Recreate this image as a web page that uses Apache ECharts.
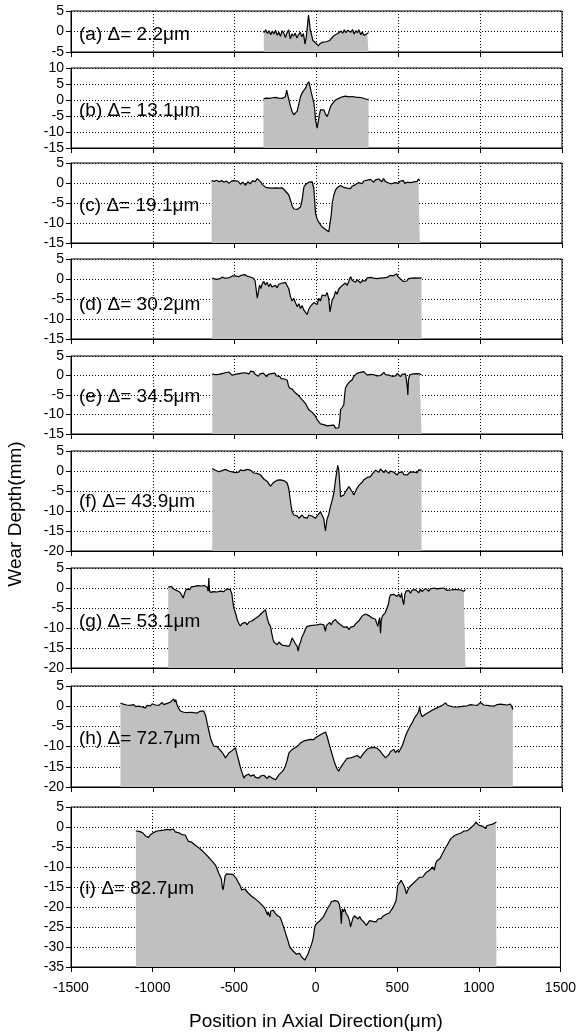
<!DOCTYPE html>
<html>
<head>
<meta charset="utf-8">
<title>Wear Depth profiles</title>
<script src="https://cdn.jsdelivr.net/npm/echarts@6.0.0/dist/echarts.min.js"></script>
<style>
html, body { margin: 0; padding: 0; background: #fff; }
#main { width: 579px; height: 1032px; }
</style>
</head>
<body>
<div id="main"></div>
<script>
// profile data [position um, depth]
var profileA = [[-322,-0.3],[-310,0.4],[-300,-0.5],[-290,0.2],[-280,-0.8],[-270,0.1],[-260,-0.6],[-250,0.3],[-240,-0.9],[-230,-0.2],[-220,-1.2],[-210,0.2],[-200,-0.4],[-190,-1.5],[-180,-0.3],[-170,0.4],[-160,-1.8],[-150,-0.6],[-140,-1.1],[-130,-0.4],[-120,-1.6],[-110,-0.8],[-100,-0.2],[-90,-1.3],[-80,-0.5],[-70,-3.1],[-62,-1.2],[-55,1.5],[-49,4.0],[-44,2.5],[-38,0.3],[-30,-0.8],[-22,-2.2],[-15,-1.8],[-5,-2.8],[5,-3.2],[12,-3.5],[20,-3.0],[30,-2.9],[40,-2.6],[50,-2.4],[60,-2.5],[70,-2.1],[80,-2.2],[90,-1.7],[100,-1.5],[110,-0.9],[120,-1.2],[130,-0.5],[140,-0.8],[150,0.1],[160,-0.4],[170,0.4],[180,-0.3],[190,0.3],[200,0.6],[210,-0.2],[220,0.5],[230,-0.6],[240,0.2],[250,-0.3],[260,0.4],[270,-0.8],[280,-0.1],[290,-1.0],[300,-1.4],[310,-0.5],[318,-0.3]];
var profileB = [[-324,0.3],[-310,0.6],[-300,0.1],[-290,0.5],[-280,0.2],[-270,0.7],[-260,0.4],[-250,0.8],[-240,0.3],[-230,0.6],[-220,0.9],[-210,0.5],[-200,0.8],[-190,1.0],[-182,3.1],[-174,1.2],[-166,-0.5],[-159,-2.0],[-149,-3.6],[-139,-4.6],[-128,-4.2],[-118,-3.5],[-108,-1.2],[-98,1.0],[-88,2.2],[-77,3.0],[-67,3.7],[-57,5.0],[-47,5.7],[-40,4.2],[-33,2.6],[-26,1.1],[-16,-1.0],[-10,-3.5],[-6,-6.2],[0,-7.8],[4,-8.8],[10,-7.0],[17,-4.8],[24,-3.1],[34,-2.8],[45,-3.1],[55,-4.4],[65,-5.2],[75,-3.8],[86,-2.0],[96,-1.2],[106,-0.6],[116,0.0],[126,0.4],[136,0.5],[147,0.6],[157,1.0],[167,0.8],[177,1.2],[187,0.9],[198,1.0],[208,0.7],[218,1.1],[228,0.8],[238,0.9],[249,0.6],[259,0.8],[269,0.5],[279,0.7],[289,0.4],[300,0.3],[310,0.5],[318,0.2]];
var profileC = [[-641,0.6],[-625,0.4],[-610,0.7],[-595,0.3],[-580,0.6],[-565,0.2],[-550,0.5],[-535,-0.1],[-520,0.4],[-507,0.6],[-495,0.1],[-480,0.5],[-465,-0.3],[-450,0.2],[-434,-0.6],[-420,0.3],[-405,-0.2],[-390,0.6],[-376,0.3],[-362,1.1],[-350,0.7],[-340,0.2],[-330,-0.4],[-320,-0.9],[-310,-1.1],[-301,-1.4],[-290,-1.2],[-280,-1.6],[-270,-1.3],[-260,-1.5],[-250,-1.2],[-240,-1.5],[-230,-1.3],[-220,-1.6],[-210,-1.2],[-200,-1.4],[-190,-2.0],[-180,-2.4],[-169,-3.0],[-159,-4.3],[-148,-5.8],[-138,-6.5],[-128,-6.8],[-118,-6.6],[-108,-6.2],[-98,-6.0],[-88,-4.2],[-77,-1.0],[-67,-0.4],[-57,0.0],[-47,0.2],[-36,0.1],[-26,0.3],[-16,-1.5],[-6,-7.6],[4,-9.0],[14,-9.8],[24,-10.4],[35,-11.0],[45,-11.3],[55,-11.6],[65,-11.9],[75,-12.2],[82,-12.0],[90,-8.0],[96,-5.0],[106,-3.0],[116,-1.8],[126,-1.2],[136,-0.8],[147,-0.6],[157,-0.9],[167,-1.1],[177,-0.8],[187,-1.3],[198,-1.2],[208,-1.4],[218,-0.8],[228,-1.0],[238,-0.4],[249,-0.6],[259,0.1],[269,0.3],[279,-0.2],[289,0.5],[300,0.2],[310,0.7],[320,0.3],[330,0.9],[340,0.4],[350,0.2],[360,0.8],[370,0.5],[380,1.0],[390,0.6],[400,0.3],[410,1.1],[420,0.4],[430,0.7],[440,0.0],[450,0.5],[460,-0.2],[471,-0.6],[480,0.1],[490,0.4],[500,-0.1],[510,0.5],[520,0.2],[530,0.6],[540,-0.1],[554,0.2],[565,0.6],[575,0.1],[585,0.5],[595,0.3],[605,0.8],[615,0.4],[623,1.0],[631,0.5]];
var profileD = [[-637,0.2],[-625,0.4],[-612,-0.1],[-600,0.3],[-588,0.1],[-575,0.5],[-562,0.2],[-550,0.6],[-538,0.3],[-525,0.5],[-512,0.8],[-500,0.4],[-488,0.7],[-475,0.6],[-462,0.9],[-450,0.5],[-438,1.1],[-425,0.7],[-415,1.0],[-405,0.5],[-395,0.8],[-385,0.2],[-375,-0.5],[-368,-2.8],[-362,-4.8],[-355,-3.2],[-348,-1.5],[-340,-2.4],[-332,-1.2],[-322,-0.6],[-312,-1.5],[-302,-0.8],[-292,-1.9],[-282,-1.2],[-272,-2.0],[-261,-2.3],[-251,-1.6],[-241,-2.2],[-230,-1.3],[-220,-1.8],[-210,-1.0],[-200,-1.5],[-189,-0.9],[-179,-0.6],[-169,-2.5],[-159,-4.4],[-149,-5.5],[-139,-4.8],[-128,-6.0],[-118,-6.9],[-108,-6.2],[-98,-7.4],[-88,-6.6],[-77,-7.8],[-67,-8.2],[-57,-8.9],[-47,-7.5],[-36,-6.8],[-26,-7.2],[-16,-5.9],[-6,-5.6],[4,-6.4],[14,-4.8],[24,-5.5],[35,-4.0],[45,-3.5],[55,-4.2],[65,-3.4],[75,-5.0],[82,-8.2],[90,-7.8],[96,-5.2],[106,-4.6],[116,-3.1],[126,-3.8],[136,-2.5],[147,-2.9],[157,-1.6],[167,-1.9],[177,-1.0],[187,-1.6],[198,-0.5],[208,0.6],[218,-0.3],[228,0.2],[238,-0.8],[249,-0.2],[259,-0.6],[269,-1.0],[279,-0.4],[289,0.0],[300,-0.5],[310,0.3],[320,-0.1],[330,0.4],[340,0.0],[350,0.2],[360,0.5],[370,0.1],[380,0.6],[390,0.2],[400,0.7],[410,0.3],[420,0.8],[430,0.4],[440,0.6],[450,0.9],[460,0.5],[470,0.8],[480,1.0],[489,1.3],[498,0.6],[508,0.2],[518,-0.2],[532,-0.6],[542,-0.2],[552,-0.5],[562,0.1],[572,-0.3],[582,0.2],[592,-0.1],[602,0.3],[612,0.0],[625,0.2],[635,0.5],[642,0.3]];
var profileE = [[-637,0.4],[-627,0.7],[-617,0.2],[-607,0.6],[-597,0.3],[-587,0.8],[-577,0.5],[-567,0.2],[-557,0.7],[-546,0.4],[-536,0.9],[-526,0.5],[-516,0.1],[-506,0.6],[-496,0.3],[-485,0.8],[-475,0.5],[-465,1.0],[-455,0.6],[-445,0.2],[-435,0.7],[-423,0.9],[-413,0.4],[-403,1.1],[-393,0.6],[-385,1.0],[-375,0.3],[-365,0.6],[-355,-0.2],[-345,0.4],[-335,0.1],[-325,0.6],[-315,0.2],[-305,-0.3],[-295,0.3],[-285,0.0],[-275,0.5],[-265,0.2],[-255,0.6],[-245,-0.1],[-235,-0.5],[-225,-0.2],[-215,-0.8],[-205,-0.4],[-195,-0.9],[-189,-0.7],[-179,-1.2],[-172,-2.5],[-165,-3.2],[-159,-3.0],[-149,-3.5],[-139,-3.9],[-128,-4.5],[-118,-4.2],[-108,-5.2],[-98,-5.6],[-88,-6.2],[-77,-6.5],[-67,-7.2],[-57,-8.0],[-47,-8.8],[-37,-9.0],[-27,-9.4],[-16,-9.8],[-6,-10.5],[4,-11.3],[14,-11.8],[24,-12.4],[35,-12.0],[45,-12.6],[55,-12.2],[65,-12.9],[75,-12.5],[86,-12.8],[96,-13.2],[106,-12.7],[116,-13.5],[126,-13.1],[136,-13.4],[142,-11.5],[147,-8.8],[157,-8.2],[167,-7.5],[172,-5.0],[177,-3.2],[187,-2.4],[198,-1.8],[208,-1.4],[218,-1.1],[228,-0.2],[238,0.3],[249,0.6],[259,0.2],[269,0.8],[279,0.4],[289,1.0],[300,0.5],[310,0.1],[320,0.6],[330,0.3],[340,0.8],[350,0.2],[361,0.5],[371,-0.1],[381,0.4],[391,0.0],[401,0.5],[412,0.8],[422,0.2],[432,0.6],[442,0.1],[452,0.4],[462,-0.2],[473,0.3],[483,-0.1],[493,0.5],[503,0.2],[513,-0.3],[524,0.3],[534,-0.2],[544,0.4],[550,0.0],[555,-3.0],[558,-5.0],[562,-1.0],[570,0.2],[580,-0.3],[590,0.4],[600,0.0],[610,0.5],[620,0.1],[630,0.4],[642,0.2]];
var profileF = [[-637,0.6],[-627,0.9],[-617,0.2],[-607,0.5],[-597,-0.2],[-587,-0.6],[-577,0.1],[-567,-0.3],[-557,0.4],[-546,0.4],[-536,0.0],[-526,0.3],[-516,-0.2],[-506,0.2],[-496,-0.4],[-485,0.1],[-475,-0.3],[-465,0.3],[-455,0.6],[-445,0.1],[-435,0.4],[-423,0.4],[-413,-0.1],[-403,0.2],[-393,-0.3],[-383,-0.5],[-372,-0.2],[-362,-0.6],[-352,-0.8],[-342,-1.0],[-332,-1.5],[-322,-2.0],[-312,-2.3],[-301,-2.6],[-291,-3.2],[-281,-3.8],[-271,-3.3],[-261,-2.8],[-251,-2.5],[-240,-2.3],[-230,-2.5],[-220,-2.2],[-210,-2.6],[-200,-2.4],[-189,-2.7],[-179,-3.0],[-169,-4.5],[-163,-6.4],[-156,-8.5],[-149,-10.2],[-139,-11.0],[-128,-11.5],[-118,-11.2],[-108,-11.8],[-98,-11.4],[-88,-11.0],[-77,-11.6],[-67,-11.2],[-57,-11.8],[-47,-11.0],[-37,-10.6],[-26,-11.3],[-16,-11.0],[-6,-11.8],[4,-11.2],[14,-10.8],[24,-10.2],[35,-10.6],[45,-12.0],[50,-13.8],[55,-15.0],[60,-13.2],[65,-12.0],[75,-10.8],[86,-8.8],[96,-7.3],[106,-5.5],[116,-2.3],[123,-0.4],[130,1.5],[136,0.2],[142,-3.0],[147,-6.4],[157,-6.8],[167,-6.0],[177,-5.2],[187,-4.8],[198,-3.9],[208,-4.4],[218,-5.2],[228,-6.0],[238,-5.1],[249,-4.2],[259,-3.6],[269,-3.1],[279,-2.8],[289,-2.2],[300,-1.9],[310,-1.6],[320,-1.2],[330,-1.4],[340,-0.8],[350,-0.3],[361,0.2],[371,0.4],[381,-0.3],[391,0.5],[401,0.1],[412,-0.4],[422,0.2],[432,-0.2],[442,-0.6],[452,0.0],[462,-0.5],[473,-0.3],[483,-0.8],[493,-1.0],[503,-0.4],[513,-0.7],[524,-0.2],[534,-0.9],[544,-0.5],[554,-1.0],[564,-0.6],[574,-0.2],[585,-0.7],[595,-0.3],[605,-0.1],[615,-0.4],[625,0.3],[635,0.1],[642,0.2]];
var profileG = [[-906,0.2],[-896,-0.3],[-886,0.4],[-876,-0.2],[-866,0.1],[-856,-0.6],[-846,-0.3],[-836,-1.0],[-826,-1.6],[-815,-2.5],[-805,-1.2],[-795,-0.3],[-785,0.2],[-775,-0.4],[-765,0.3],[-755,-0.2],[-745,0.4],[-735,0.1],[-725,0.6],[-715,0.2],[-705,0.5],[-695,0.1],[-685,0.6],[-678,0.8],[-668,0.2],[-662,-0.8],[-658,2.5],[-654,-0.5],[-648,-1.1],[-638,-0.6],[-628,-0.9],[-618,-0.4],[-608,-1.0],[-598,-0.5],[-587,-0.8],[-577,-0.3],[-567,-0.9],[-557,-0.6],[-547,-0.2],[-537,-0.7],[-527,-0.4],[-517,-1.5],[-510,-3.8],[-505,-5.0],[-498,-5.4],[-490,-7.0],[-482,-8.2],[-475,-8.8],[-465,-9.5],[-455,-8.9],[-445,-9.3],[-435,-8.6],[-423,-9.2],[-413,-8.5],[-403,-8.9],[-393,-8.2],[-383,-8.0],[-373,-7.6],[-362,-7.5],[-352,-7.0],[-342,-6.6],[-332,-6.2],[-322,-6.0],[-312,-5.4],[-305,-6.8],[-298,-8.0],[-291,-8.9],[-281,-9.6],[-274,-11.2],[-266,-12.8],[-258,-13.6],[-250,-13.8],[-240,-14.2],[-230,-13.5],[-220,-13.9],[-210,-14.3],[-200,-13.8],[-190,-14.4],[-180,-14.0],[-169,-14.6],[-159,-13.8],[-149,-12.5],[-139,-13.2],[-128,-14.0],[-118,-14.6],[-112,-15.8],[-105,-14.2],[-98,-13.6],[-90,-12.4],[-77,-11.3],[-67,-10.2],[-57,-9.6],[-47,-9.9],[-37,-9.4],[-26,-9.8],[-16,-9.3],[-6,-9.7],[4,-9.2],[14,-9.5],[24,-9.0],[35,-9.4],[45,-9.2],[50,-10.2],[55,-10.8],[60,-9.4],[70,-9.0],[80,-8.6],[90,-9.2],[100,-8.4],[110,-8.8],[116,-7.9],[126,-8.5],[136,-8.8],[147,-9.2],[157,-9.6],[167,-9.8],[177,-10.2],[187,-9.7],[198,-10.4],[208,-9.8],[218,-9.4],[228,-9.6],[238,-9.0],[249,-8.8],[259,-8.2],[269,-7.6],[279,-7.0],[289,-6.8],[300,-6.5],[310,-6.3],[320,-6.9],[330,-7.2],[340,-7.5],[350,-7.0],[360,-7.8],[368,-8.8],[375,-9.6],[381,-8.2],[386,-7.4],[391,-11.3],[396,-8.0],[404,-6.9],[412,-6.7],[420,-6.2],[432,-5.8],[440,-4.0],[446,-2.4],[452,-1.7],[462,-2.2],[473,-1.6],[483,-2.0],[493,-2.1],[503,-1.5],[513,-2.4],[520,-1.2],[526,-3.0],[533,-4.2],[540,-1.6],[547,-0.8],[554,-1.2],[564,-0.6],[574,-1.3],[585,-0.5],[595,-1.0],[605,-0.4],[615,-0.8],[625,-1.2],[635,-0.3],[645,-0.9],[655,-0.5],[666,-0.1],[676,-0.4],[686,-0.8],[696,-0.2],[706,-0.6],[717,0.0],[727,-0.5],[737,-0.2],[747,-0.7],[757,-0.1],[768,-0.4],[778,0.0],[788,-0.3],[798,-0.6],[808,-0.2],[818,-0.5],[829,-0.1],[839,-0.4],[849,-0.2],[860,-0.4],[870,-0.2],[880,-0.5],[890,-0.3],[900,-0.8],[910,-0.4]];
var profileH = [[-1198,0.8],[-1190,1.0],[-1180,0.5],[-1170,0.8],[-1160,0.3],[-1150,0.6],[-1140,0.2],[-1130,0.5],[-1116,0.4],[-1105,-0.1],[-1095,0.3],[-1085,0.0],[-1075,0.4],[-1065,-0.2],[-1055,0.1],[-1045,-0.4],[-1035,0.2],[-1025,0.5],[-1015,0.1],[-1004,0.6],[-994,0.8],[-984,0.3],[-974,0.7],[-964,0.2],[-953,0.6],[-943,0.9],[-933,0.4],[-923,0.8],[-912,0.7],[-902,0.3],[-892,1.0],[-882,1.4],[-872,1.8],[-866,1.0],[-860,1.6],[-851,0.2],[-841,-0.6],[-831,-1.2],[-821,-1.0],[-811,-1.5],[-800,-1.2],[-790,-1.6],[-780,-1.3],[-770,-1.5],[-760,-1.8],[-750,-1.6],[-740,-1.3],[-729,-1.7],[-719,-1.4],[-709,-1.2],[-699,-1.6],[-689,-1.2],[-684,-0.9],[-676,-2.5],[-668,-4.2],[-658,-6.0],[-648,-7.8],[-638,-9.0],[-627,-9.9],[-617,-10.2],[-607,-10.0],[-597,-10.5],[-587,-10.7],[-577,-11.4],[-567,-12.0],[-556,-12.8],[-546,-12.2],[-536,-11.6],[-526,-11.2],[-516,-11.0],[-506,-10.6],[-495,-10.3],[-485,-12.0],[-475,-13.5],[-464,-15.3],[-454,-16.5],[-444,-17.8],[-434,-17.2],[-424,-17.5],[-414,-16.8],[-403,-17.3],[-393,-16.9],[-383,-17.0],[-373,-17.6],[-362,-17.2],[-352,-17.8],[-342,-17.3],[-332,-17.6],[-322,-17.1],[-312,-17.5],[-301,-17.9],[-291,-17.3],[-281,-17.5],[-271,-17.8],[-261,-17.4],[-250,-18.2],[-240,-17.6],[-230,-17.0],[-220,-16.6],[-210,-16.2],[-200,-15.7],[-190,-14.8],[-180,-13.5],[-169,-11.6],[-159,-11.2],[-149,-10.7],[-139,-10.9],[-128,-10.2],[-118,-9.8],[-108,-9.6],[-98,-9.1],[-88,-9.4],[-77,-8.6],[-67,-8.9],[-57,-8.4],[-47,-8.7],[-37,-8.2],[-26,-8.5],[-16,-8.3],[-6,-7.8],[4,-7.6],[14,-7.3],[24,-7.0],[35,-6.8],[45,-6.6],[55,-6.4],[65,-7.5],[75,-9.0],[86,-10.6],[96,-12.0],[106,-13.4],[116,-14.6],[126,-15.5],[136,-16.1],[147,-15.2],[157,-14.6],[167,-14.0],[177,-13.6],[187,-12.9],[198,-13.2],[208,-12.8],[218,-13.0],[228,-12.5],[238,-12.9],[249,-12.2],[259,-12.6],[269,-12.8],[279,-12.1],[289,-11.6],[300,-11.2],[310,-10.6],[320,-10.9],[330,-10.3],[340,-10.5],[350,-10.2],[361,-10.6],[371,-10.4],[381,-10.7],[391,-11.2],[401,-11.8],[412,-12.3],[422,-12.8],[432,-12.6],[442,-12.0],[452,-11.2],[462,-10.8],[473,-10.7],[483,-11.5],[493,-10.9],[503,-11.4],[513,-11.2],[524,-9.8],[534,-8.6],[544,-7.4],[554,-6.4],[564,-5.6],[574,-4.8],[585,-4.1],[595,-3.2],[605,-2.5],[615,-2.0],[625,-1.2],[630,0.0],[635,-1.5],[645,-2.6],[656,-2.9],[666,-2.0],[676,-2.4],[686,-1.5],[696,-1.9],[706,-1.0],[717,-1.2],[727,-0.6],[737,-0.9],[747,-0.2],[757,-0.5],[768,0.2],[778,0.6],[788,0.8],[798,0.3],[808,0.5],[818,0.0],[829,0.3],[839,-0.2],[849,0.1],[860,-0.2],[870,0.2],[880,-0.1],[890,0.3],[900,0.0],[910,0.4],[921,0.1],[931,0.5],[941,0.4],[951,0.0],[961,0.3],[972,0.6],[982,0.2],[992,0.5],[1002,0.9],[1012,0.8],[1022,0.3],[1033,0.6],[1043,0.2],[1053,0.5],[1063,0.1],[1073,0.4],[1084,0.0],[1094,0.3],[1104,0.4],[1114,0.1],[1124,0.5],[1135,0.2],[1145,0.4],[1155,0.1],[1165,0.3],[1175,0.4],[1185,0.5],[1192,0.0],[1200,-0.8]];
var profileI = [[-1102,-1.0],[-1092,-1.3],[-1082,-1.1],[-1072,-1.6],[-1062,-1.4],[-1051,-1.9],[-1041,-2.3],[-1035,-2.1],[-1025,-2.6],[-1015,-2.0],[-1004,-1.7],[-994,-1.4],[-984,-1.2],[-974,-1.0],[-964,-1.5],[-953,-0.9],[-943,-1.2],[-933,-0.8],[-923,-1.1],[-912,-0.6],[-902,-0.9],[-892,-0.7],[-882,-1.0],[-872,-0.5],[-862,-1.2],[-851,-0.9],[-841,-1.4],[-831,-1.6],[-821,-1.9],[-811,-2.2],[-800,-2.0],[-790,-2.5],[-780,-3.6],[-770,-3.9],[-760,-3.8],[-750,-4.2],[-740,-4.5],[-729,-4.7],[-719,-5.1],[-709,-5.4],[-699,-5.8],[-689,-6.2],[-679,-6.6],[-668,-7.0],[-658,-7.5],[-648,-7.9],[-638,-8.4],[-627,-8.8],[-617,-9.4],[-607,-10.2],[-597,-11.3],[-587,-11.8],[-578,-13.0],[-573,-15.0],[-568,-15.7],[-562,-14.2],[-556,-12.4],[-546,-11.7],[-536,-12.0],[-526,-11.8],[-516,-12.2],[-506,-11.9],[-495,-12.1],[-485,-13.0],[-475,-13.8],[-464,-14.6],[-454,-15.7],[-444,-15.2],[-434,-15.5],[-424,-16.0],[-414,-16.5],[-403,-17.0],[-393,-17.3],[-383,-17.6],[-373,-17.9],[-362,-18.2],[-352,-18.6],[-342,-19.0],[-332,-19.4],[-322,-19.9],[-312,-20.3],[-301,-20.8],[-295,-22.0],[-291,-21.2],[-281,-22.5],[-275,-21.0],[-268,-20.6],[-261,-20.8],[-251,-21.4],[-240,-22.0],[-230,-21.6],[-220,-22.5],[-210,-23.4],[-200,-24.6],[-190,-25.8],[-180,-27.2],[-169,-28.6],[-159,-30.0],[-149,-30.4],[-139,-31.0],[-128,-31.5],[-118,-31.8],[-108,-32.0],[-98,-31.6],[-88,-32.4],[-77,-32.8],[-67,-33.3],[-57,-32.9],[-47,-31.7],[-37,-30.6],[-26,-29.4],[-16,-27.9],[-10,-26.2],[-6,-25.0],[4,-24.2],[14,-23.8],[24,-23.5],[35,-23.3],[45,-22.6],[55,-21.8],[65,-21.0],[75,-20.2],[86,-19.5],[96,-18.7],[106,-18.9],[116,-18.4],[126,-18.8],[136,-18.6],[145,-19.4],[152,-21.0],[157,-24.2],[162,-20.5],[170,-21.2],[177,-20.4],[187,-21.7],[198,-22.3],[208,-23.6],[213,-25.0],[218,-24.3],[228,-22.8],[238,-22.2],[249,-22.5],[259,-23.0],[269,-22.4],[279,-23.1],[289,-23.3],[300,-24.0],[310,-24.6],[315,-25.0],[320,-24.2],[330,-23.4],[340,-23.9],[350,-23.6],[361,-23.2],[371,-23.7],[381,-23.0],[391,-22.8],[401,-22.9],[412,-22.3],[422,-22.0],[432,-21.8],[442,-21.7],[452,-21.5],[462,-20.8],[473,-20.2],[483,-19.3],[493,-18.3],[498,-16.5],[503,-14.6],[513,-14.0],[523,-13.3],[533,-13.3],[543,-14.8],[551,-15.9],[556,-16.7],[564,-15.8],[574,-15.0],[585,-14.6],[595,-14.2],[605,-13.8],[615,-13.4],[625,-13.1],[635,-12.6],[645,-12.8],[656,-12.5],[666,-12.0],[676,-11.4],[686,-11.8],[696,-10.9],[706,-10.5],[717,-10.0],[727,-10.8],[735,-9.2],[742,-8.5],[752,-8.8],[762,-7.9],[770,-7.2],[778,-6.7],[788,-5.8],[798,-5.0],[808,-4.4],[818,-3.6],[829,-2.9],[839,-2.6],[849,-2.2],[860,-2.0],[870,-1.8],[880,-1.7],[890,-1.5],[900,-1.2],[910,-1.0],[921,-0.8],[931,-0.9],[941,-0.7],[951,-0.2],[961,0.3],[972,0.6],[982,1.2],[992,0.8],[1002,0.4],[1012,0.6],[1022,0.2],[1033,0.5],[1043,-0.4],[1048,0.3],[1053,0.8],[1063,0.5],[1073,0.9],[1084,0.7],[1094,1.0],[1104,1.2],[1108,1.1]];

var profiles = [profileA, profileB, profileC, profileD, profileE, profileF, profileG, profileH, profileI];
var panelLabels = ['(a) Δ= 2.2μm', '(b) Δ= 13.1μm', '(c) Δ= 19.1μm', '(d) Δ= 30.2μm', '(e) Δ= 34.5μm', '(f) Δ= 43.9μm', '(g) Δ= 53.1μm', '(h) Δ= 72.7μm', '(i) Δ= 82.7μm'];
var yMins = [-5, -15, -15, -15, -15, -20, -20, -20, -35];
var yMaxs = [5, 10, 5, 5, 5, 5, 5, 5, 5];
var xMin = -1500, xMax = 1500, xStep = 500, yStep = 5;

// layout (pixels)
var panelTop = [11, 68, 163, 259, 356, 451, 568, 686, 807];
var panelHeight = [41, 80, 80, 80, 78, 100, 100, 101, 160];
var labelY = [35, 111, 206, 305, 397, 502, 622, 739, 889];

var font = '"Liberation Sans", Arial, sans-serif';
var dotted = [1, 2];

function plainNum(v) {
	return String(v);
}

var chart = echarts.init(document.getElementById('main'), null, { renderer: 'canvas' });

var grids = [], xAxes = [], yAxes = [], series = [], graphics = [];
for (var i = 0; i < profiles.length; i++) {
	var last = (i == profiles.length - 1);
	grids.push({
		left: 71, width: 491, top: panelTop[i], height: panelHeight[i],
		show: true, borderColor: '#000', borderWidth: 1, backgroundColor: '#fff'
	});
	xAxes.push({
		gridIndex: i, type: 'value', min: xMin, max: xMax, interval: xStep,
		axisLine: { show: true, onZero: false, lineStyle: { color: '#000', width: 1 } },
		axisTick: { show: true, inside: false, length: 5, lineStyle: { color: '#000' } },
		axisLabel: { show: last, fontSize: 14, color: '#000', fontFamily: font, margin: 14, formatter: plainNum },
		splitLine: { show: true, lineStyle: { color: '#000', type: dotted, width: 1 } }
	});
	yAxes.push({
		gridIndex: i, type: 'value', min: yMins[i], max: yMaxs[i], interval: yStep,
		axisLine: { show: true, onZero: false, lineStyle: { color: '#000', width: 1 } },
		axisTick: { show: true, inside: false, length: 5, lineStyle: { color: '#000' } },
		axisLabel: { fontSize: 14, color: '#000', fontFamily: font, margin: 7, formatter: plainNum },
		splitLine: { show: true, lineStyle: { color: '#000', type: dotted, width: 1 } }
	});
	series.push({
		type: 'line', xAxisIndex: i, yAxisIndex: i, data: profiles[i],
		symbol: 'none', showSymbol: false, smooth: false,
		lineStyle: { color: '#000', width: 1.2 },
		areaStyle: { color: '#c0c0c0', opacity: 1, origin: 'start' },
		silent: true
	});
	graphics.push({
		type: 'text', x: 79, y: labelY[i], z: 100,
		style: { text: panelLabels[i], fill: '#000', font: '19px ' + font, verticalAlign: 'middle', align: 'left' }
	});
}

graphics.push({
	type: 'text', x: 16, y: 514, rotation: Math.PI / 2, z: 100,
	style: { text: 'Wear Depth(mm)', fill: '#000', font: '19px ' + font, align: 'center', verticalAlign: 'middle' }
});
graphics.push({
	type: 'text', x: 316, y: 1022, z: 100,
	style: { text: 'Position in Axial Direction(μm)', fill: '#000', font: '19px ' + font, align: 'center', verticalAlign: 'middle' }
});

chart.setOption({
	animation: false,
	backgroundColor: '#fff',
	grid: grids,
	xAxis: xAxes,
	yAxis: yAxes,
	series: series,
	graphic: graphics
});
</script>
</body>
</html>
